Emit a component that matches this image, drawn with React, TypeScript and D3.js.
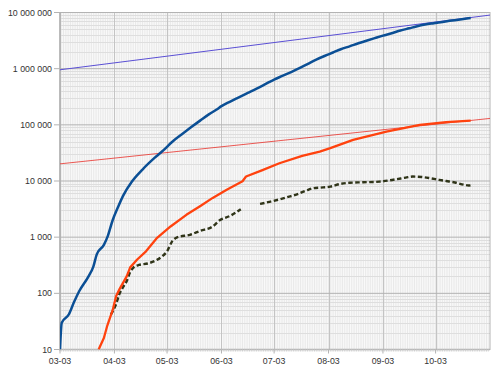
import React from "react";
import * as d3 from "d3";

const casesDates = ["03-03","03-04","03-08","03-11","03-14","03-19","03-22","03-24","03-28","03-30","04-02","04-05","04-08","04-13","04-19","04-26","05-01","05-06","05-12","05-17","05-22","05-27","05-31","06-03","06-08","06-12","06-18","06-23","06-28","07-03","07-08","07-13","07-18","07-22","07-27","08-03","08-06","08-10","08-15","08-20","08-25","08-30","09-03","09-08","09-13","09-18","09-22","09-27","10-02","10-07","10-11","10-16","10-23"];
const casesValues = [10,30,42,70,110,195,300,500,730,1000,2000,3400,5500,9800,16000,26000,35500,50000,70000,92000,120000,155000,185000,215000,260000,300000,370000,440000,530000,640000,750000,880000,1040000,1200000,1450000,1800000,1970000,2220000,2500000,2830000,3180000,3550000,3870000,4280000,4770000,5230000,5640000,6100000,6450000,6800000,7100000,7450000,8000000];

const deathsDates = ["03-25","03-28","03-30","04-02","04-04","04-06","04-10","04-12","04-16","04-21","04-27","05-05","05-14","05-22","05-29","06-06","06-15","06-17","06-26","07-06","07-19","07-29","08-04","08-17","09-05","09-24","10-09","10-23"];
const deathsValues = [10,16,27,50,90,120,200,290,400,560,950,1550,2500,3600,5000,7000,9900,12000,15500,20700,28000,33400,38400,54000,76000,100000,112000,119000];

const dashedDates = ["04-01","04-04","04-06","04-08","04-10","04-12","04-14","04-17","04-22","04-27","04-30","05-03","05-06","05-09","05-16","05-22","05-29","06-02","06-08","06-14","06-15","06-25","07-01","07-06","07-11","07-16","07-21","07-25","07-31","08-04","08-10","08-15","08-23","09-01","09-07","09-11","09-16","09-20","09-25","09-30","10-05","10-09","10-14","10-19","10-22","10-24"];
const dashedValues: (number | null)[] = [42,65,100,130,165,240,290,320,340,390,450,560,850,1000,1100,1300,1550,2000,2400,3150,null,3900,4300,4700,5200,5800,6700,7400,7700,7950,8900,9300,9500,9750,10300,10800,11500,12000,11800,11200,10500,10000,9400,8600,8300,8500];

const trendDates = ["03-03","11-03"];
const casesTrend = [955000, 9000000];
const deathsTrend = [20200, 130000];

const xTickLabels = ["03-03","04-03","05-03","06-03","07-03","08-03","09-03","10-03"];
const yTickValues = [10,100,1000,10000,100000,1000000,10000000];

const parse = (s: string) => new Date(Date.UTC(2020, +s.slice(0, 2) - 1, +s.slice(3, 5)));

const L = 60, R = 490, T = 12.5, B = 349.5;

export default function App() {
  const x = d3.scaleUtc().domain([parse("03-03"), parse("11-03")]).range([L, R]);
  const y = d3.scaleLog().domain([10, 1e7]).range([B, T]);

  const days = d3.utcDay.range(parse("03-03"), parse("11-03"));
  const minorY: number[] = [];
  for (let e = 1; e < 7; e++) for (let k = 2; k <= 9; k++) minorY.push(k * Math.pow(10, e));

  const mk = (dates: string[], vals: (number | null)[]) =>
    dates.map((d, i) => ({ d: parse(d), v: vals[i] }));
  const line = d3
    .line<{ d: Date; v: number | null }>()
    .defined((p) => p.v != null)
    .x((p) => x(p.d))
    .y((p) => y(p.v as number));
  const smooth = d3
    .line<{ d: Date; v: number | null }>()
    .defined((p) => p.v != null)
    .x((p) => x(p.d))
    .y((p) => y(p.v as number))
    .curve(d3.curveMonotoneX);

  const fmt = (v: number) => d3.format(",")(v).replace(/,/g, " ");

  return (
    <svg width={500} height={374} style={{ position: "absolute", left: 0, top: 0, background: "#fff" }}
      fontFamily="Liberation Sans, Arial, sans-serif">
      <defs>
        <clipPath id="plot">
          <rect x={L} y={T} width={R - L} height={B - T} />
        </clipPath>
      </defs>
      <rect x={L} y={T} width={R - L} height={B - T} fill="#fdfdfd" />
      {days.map((d, i) => (
        <line key={"d" + i} x1={x(d)} x2={x(d)} y1={T} y2={B} stroke="#e9e9e9" strokeWidth={1} />
      ))}
      {minorY.map((v, i) => (
        <line key={"my" + i} x1={L} x2={R} y1={Math.round(y(v)) + 0.5} y2={Math.round(y(v)) + 0.5} stroke="#dedede" strokeWidth={1} />
      ))}
      {xTickLabels.map((t, i) => (
        <line key={"mx" + i} x1={Math.round(x(parse(t))) + 0.5} x2={Math.round(x(parse(t))) + 0.5} y1={T} y2={B} stroke="#c4c4c4" strokeWidth={1} />
      ))}
      {yTickValues.map((v, i) => (
        <line key={"gy" + i} x1={L} x2={R} y1={y(v)} y2={y(v)} stroke="#b3b3b3" strokeWidth={1} />
      ))}
      <rect x={L} y={T} width={R - L} height={B - T} fill="none" stroke="#b3b3b3" strokeWidth={1} />
      <line x1={L} x2={L} y1={T} y2={B + 1} stroke="#b3b3b3" strokeWidth={1.5} />
      <line x1={L} x2={R} y1={B} y2={B} stroke="#b3b3b3" strokeWidth={1.5} />
      {days.map((d, i) => (
        <line key={"dt" + i} x1={x(d)} x2={x(d)} y1={B} y2={B + 2} stroke="#cfcfcf" strokeWidth={1} />
      ))}
      {xTickLabels.map((t, i) => (
        <g key={"xt" + i}>
          <line x1={x(parse(t))} x2={x(parse(t))} y1={B} y2={B + 4} stroke="#b3b3b3" />
          <text x={x(parse(t))} y={364} fontSize={8.8} fill="#333" textAnchor="middle">{t}</text>
        </g>
      ))}
      {yTickValues.map((v, i) => (
        <g key={"yt" + i}>
          <line x1={L - 6} x2={L} y1={y(v)} y2={y(v)} stroke="#b3b3b3" />
          <text x={52} y={y(v)} dy="0.35em" fontSize={8.8} fill="#333" textAnchor="end">{fmt(v)}</text>
        </g>
      ))}
      <g clipPath="url(#plot)" fill="none">
        <path d={line(mk(trendDates, casesTrend)) || ""} stroke="#5a4fd4" strokeWidth={1} />
        <path d={line(mk(trendDates, deathsTrend)) || ""} stroke="#e8302a" strokeWidth={0.8} />
        <path d={smooth(mk(dashedDates, dashedValues)) || ""} stroke="#2f3418" strokeWidth={2.4} strokeDasharray="4.5 2.5" />
        <path d={line(mk(deathsDates, deathsValues)) || ""} stroke="#ff420e" strokeWidth={2.3} strokeLinejoin="round" />
        <path d={smooth(mk(casesDates, casesValues)) || ""} stroke="#0b4f95" strokeWidth={2.5} strokeLinejoin="round" />
      </g>
    </svg>
  );
}
